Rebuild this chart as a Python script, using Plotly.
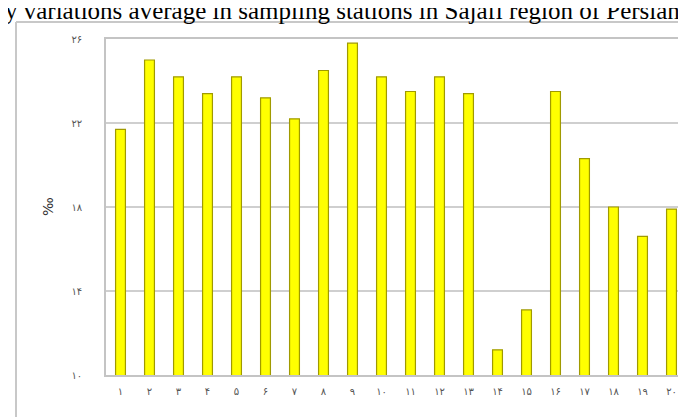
import plotly.graph_objects as go

stations = ["۱", "۲", "۳", "۴", "۵", "۶", "۷", "۸", "۹", "۱۰",
            "۱۱", "۱۲", "۱۳", "۱۴", "۱۵", "۱۶", "۱۷", "۱۸", "۱۹", "۲۰"]
salinity = [21.7, 25.0, 24.2, 23.4, 24.2, 23.2, 22.2, 24.5, 25.8, 24.2,
            23.5, 24.2, 23.4, 11.2, 13.1, 23.5, 20.3, 18.0, 16.6, 17.9]
y_tickvals = [10, 14, 18, 22, 26]
y_ticktext = ["۱۰", "۱۴", "۱۸", "۲۲", "۲۶"]
title_text = "y variations average in sampling stations in Sajafi region of Persian Gulf"

W, H = 686, 417
L, R, T, B = 98, 8, 31, 50
pw, ph = W - L - R, H - T - B

def px_x(p):
    return (p - L) / pw

def px_y(p):
    return (H - B - p) / ph

fig = go.Figure(go.Bar(
    x=stations, y=salinity,
    marker=dict(color="#ffff00", line=dict(color="#a09a00", width=1.2)),
))

fig.update_layout(
    width=W, height=H,
    margin=dict(l=L, r=R, t=T, b=B),
    paper_bgcolor="white", plot_bgcolor="white",
    bargap=0.66,
    showlegend=False,
    font=dict(family="DejaVu Sans", size=10, color="#555555"),
    xaxis=dict(type="category", showline=True, linecolor="#c4c4c4", linewidth=1.5,
               mirror=True, showgrid=False, ticks="", ticklabelstandoff=6,
               tickfont=dict(size=10, color="#555555")),
    yaxis=dict(range=[10, 26], tickvals=y_tickvals, ticktext=y_ticktext,
               showline=True, linecolor="#c4c4c4", linewidth=1.5,
               showgrid=True, gridcolor="#cfcfcf", gridwidth=1.5,
               zeroline=False, ticks="", ticklabelstandoff=20,
               tickfont=dict(size=10, color="#555555")),
    shapes=[
        dict(type="line", xref="paper", yref="paper",
             x0=px_x(8), x1=px_x(8), y0=px_y(14), y1=px_y(440),
             line=dict(color="#c8c8c8", width=2)),
        dict(type="line", xref="paper", yref="paper",
             x0=px_x(8), x1=px_x(681), y0=px_y(14), y1=px_y(14),
             line=dict(color="#c8c8c8", width=2)),
    ],
    annotations=[
        dict(text=title_text, xref="paper", yref="paper",
             x=px_x(-5), y=px_y(2), xanchor="left", yanchor="middle",
             showarrow=False,
             font=dict(family="Liberation Serif", size=25, color="black")),
        dict(text="‰", xref="paper", yref="paper",
             x=px_x(40), y=px_y(199), xanchor="center", yanchor="middle",
             textangle=-90, showarrow=False,
             font=dict(family="DejaVu Sans", size=14, color="#333333")),
    ],
)

fig.write_html("out.html")
